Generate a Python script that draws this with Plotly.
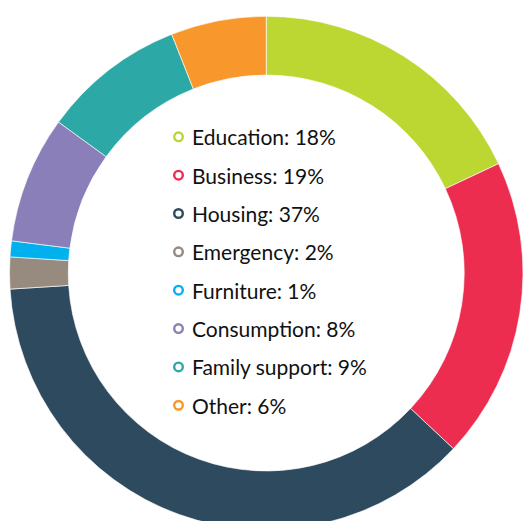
import plotly.graph_objects as go

categories = ["Education", "Business", "Housing", "Emergency", "Furniture",
              "Consumption", "Family support", "Other"]
values = [18, 19, 37, 2, 1, 8, 9, 6]
colors = ["#bcd632", "#ec2d4f", "#2e4a5f", "#978a7e", "#00b1ee",
          "#8b7fba", "#2ca8a6", "#f8972b"]

W, H = 523, 548
cx, cy, r = 266.25, 273, 256.75

fig = go.Figure()
fig.add_trace(go.Pie(
    labels=categories, values=values, sort=False, direction="clockwise",
    rotation=0, hole=0.771, textinfo="none", hoverinfo="label+percent",
    marker=dict(colors=colors, line=dict(color="rgba(255,255,255,0.8)", width=0.8)),
    domain=dict(x=[(cx - r) / W, 1.0], y=[(H - cy - r) / H, (H - cy + r) / H]),
    showlegend=False,
))

lx_marker, lx_text = 178.5, 190
y0, dy = 136.8, 38.35
shapes, annotations = [], []
for i, (cat, val, col) in enumerate(zip(categories, values, colors)):
    ypx = y0 + i * dy
    yp = (H - ypx) / H
    shapes.append(dict(type="circle", xref="paper", yref="paper",
                       xsizemode="pixel", ysizemode="pixel",
                       xanchor=lx_marker / W, yanchor=yp,
                       x0=-4.3, x1=4.3, y0=-4.3, y1=4.3,
                       line=dict(color=col, width=2.4), fillcolor="white"))
    annotations.append(dict(xref="paper", yref="paper", x=lx_text / W, y=yp,
                            xanchor="left", yanchor="middle", showarrow=False,
                            text=f"{cat}: {val}%",
                            font=dict(family="Lato", size=21, color="#111111")))

fig.update_layout(width=W, height=H, margin=dict(l=0, r=0, t=0, b=0),
                  paper_bgcolor="white", plot_bgcolor="white",
                  shapes=shapes, annotations=annotations)

fig.write_html("out.html", post_script="document.body.style.overflow='hidden';document.body.style.margin='0';")
